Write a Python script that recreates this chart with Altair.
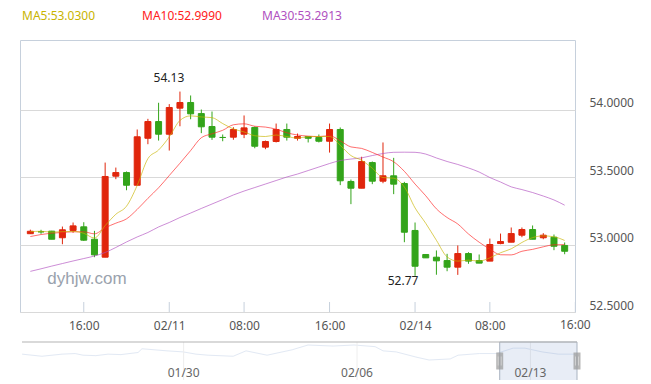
import altair as alt
import pandas as pd

# ---------------- data ----------------
idx = list(range(1, 52))
opens = [53.080, 53.094, 53.099, 53.050, 53.104, 53.131, 53.039, 52.906, 53.506, 53.533,
         53.439, 53.787, 53.911, 53.817, 54.010, 54.052, 53.970, 53.874, 53.793, 53.795,
         53.817, 53.867, 53.721, 53.763, 53.852, 53.787, 53.800, 53.793, 53.765, 53.852,
         53.467, 53.417, 53.607, 53.469, 53.509, 53.452, 53.104, 52.926, 52.906, 52.881,
         52.832, 52.933, 52.881, 52.877, 53.007, 53.017, 53.069, 53.111, 53.050, 53.054,
         52.993]
highs = [53.110, 53.109, 53.101, 53.133, 53.163, 53.165, 53.101, 53.607, 53.570, 53.541,
         53.852, 53.931, 54.050, 54.040, 54.133, 54.104, 54.000, 53.985, 53.815, 53.869,
         53.956, 53.874, 53.770, 53.896, 53.896, 53.822, 53.800, 53.815, 53.896, 53.867,
         53.481, 53.650, 53.615, 53.756, 53.642, 53.464, 53.163, 52.926, 52.956, 52.931,
         52.993, 52.943, 52.926, 53.044, 53.081, 53.126, 53.126, 53.141, 53.084, 53.074,
         53.015]
lows = [53.078, 53.079, 53.039, 53.002, 53.087, 53.027, 52.906, 52.906, 53.484, 53.402,
        53.439, 53.743, 53.770, 53.696, 53.876, 53.928, 53.825, 53.775, 53.765, 53.776,
        53.788, 53.713, 53.706, 53.756, 53.770, 53.770, 53.756, 53.756, 53.681, 53.440,
        53.299, 53.417, 53.447, 53.454, 53.373, 53.017, 52.768, 52.901, 52.776, 52.802,
        52.775, 52.857, 52.862, 52.877, 53.002, 53.017, 53.054, 53.039, 53.039, 52.958,
        52.928]
closes = [53.098, 53.094, 53.039, 53.109, 53.138, 53.032, 52.923, 53.504, 53.533, 53.439,
          53.798, 53.911, 53.817, 54.015, 54.052, 53.968, 53.872, 53.795, 53.793, 53.852,
          53.864, 53.728, 53.763, 53.852, 53.795, 53.800, 53.787, 53.765, 53.852, 53.472,
          53.417, 53.615, 53.469, 53.509, 53.447, 53.091, 52.839, 52.901, 52.879, 52.832,
          52.933, 52.877, 52.862, 53.000, 53.022, 53.081, 53.111, 53.039, 53.069, 52.987,
          52.950]
ma5 = [53.095, 53.098, 53.092, 53.095, 53.097, 53.083, 53.048, 53.140, 53.224, 53.284,
       53.438, 53.636, 53.700, 53.797, 53.919, 53.953, 53.945, 53.940, 53.896, 53.856,
       53.834, 53.806, 53.800, 53.811, 53.800, 53.788, 53.799, 53.800, 53.800, 53.735,
       53.659, 53.624, 53.565, 53.496, 53.491, 53.426, 53.271, 53.157, 53.031, 52.908,
       52.877, 52.884, 52.877, 52.901, 52.939, 52.968, 53.015, 53.051, 53.064, 53.057,
       53.030]
ma10 = [53.059, 53.074, 53.084, 53.089, 53.094, 53.094, 53.079, 53.124, 53.158, 53.190,
        53.260, 53.342, 53.420, 53.511, 53.602, 53.696, 53.791, 53.820, 53.846, 53.887,
        53.894, 53.876, 53.870, 53.854, 53.828, 53.811, 53.803, 53.800, 53.806, 53.768,
        53.723, 53.712, 53.682, 53.648, 53.613, 53.542, 53.448, 53.361, 53.264, 53.200,
        53.152, 53.078, 53.017, 52.966, 52.924, 52.923, 52.950, 52.964, 52.983, 52.998,
        52.999]
ma30 = [52.801, 52.820, 52.840, 52.859, 52.878, 52.896, 52.915, 52.941, 52.978, 53.019,
        53.056, 53.089, 53.130, 53.163, 53.200, 53.233, 53.267, 53.300, 53.333, 53.367,
        53.396, 53.422, 53.448, 53.474, 53.500, 53.522, 53.548, 53.574, 53.600, 53.622,
        53.633, 53.642, 53.659, 53.674, 53.683, 53.684, 53.683, 53.670, 53.641, 53.615,
        53.593, 53.567, 53.537, 53.496, 53.463, 53.427, 53.407, 53.385, 53.359, 53.330,
        53.2913]

xt_vals = [6, 14, 21, 29, 37, 44, 52]
xt_labels = ["16:00", "02/11", "08:00", "16:00", "02/14", "08:00", "16:00"]
y_ticks = [52.5, 53.0, 53.5, 54.0]

# navigator (overview) series, in days, with a relative level
nav_days = [0.48, 1.28, 2.09, 2.62, 2.94, 3.46, 3.95, 4.47, 5.16, 5.32, 6.33, 6.98, 7.50,
            7.99, 9.00, 9.52, 10.37, 11.38, 12.02, 13.03, 13.88, 14.73, 15.05, 15.58,
            16.42, 16.91, 17.76, 18.08, 18.93, 19.62, 20.30, 20.78, 21.47, 22.12, 22.80]
nav_levels = [0.39, 0.25, 0.39, 0.43, 0.32, 0.29, 0.39, 0.36, 0.50, 0.75, 0.61, 0.54, 0.39,
              0.32, 0.25, 0.61, 0.32, 0.68, 1.00, 0.93, 1.00, 0.89, 0.61, 0.54, 0.18,
              0.00, 0.07, 0.32, 0.43, 0.43, 0.79, 0.79, 0.54, 0.39, 0.39]
nav_label_days = [7, 14, 21]
nav_labels = ["01/30", "02/06", "02/13"]
nav_range = [0.476, 22.88]
nav_sel_start = 19.76

# ---------------- styling ----------------
RED = "#e0260c"
GREEN = "#33a41a"
FRAME = "#c6d0dc"
C5, C10, C30 = "#c8b400", "#ff2020", "#b050c0"
W, H = 555, 272
DOMAIN_END = 51.5

df = pd.DataFrame({"i": idx, "o": opens, "h": highs, "l": lows, "c": closes,
                   "ma5": ma5, "ma10": ma10, "ma30": ma30})
df["dir"] = ["up" if c > o else "down" for o, c in zip(opens, closes)]

in_vals = [v for v in xt_vals if v <= DOMAIN_END]
label_expr = " : ".join(f"datum.value == {v} ? '{t}'" for v, t in zip(xt_vals, xt_labels)) + " : ''"

xs = alt.Scale(domain=[0.5, DOMAIN_END], nice=False, zero=False)
ys = alt.Scale(domain=[52.5, 54.515], nice=False, zero=False)
xaxis = alt.Axis(values=in_vals, labelExpr=label_expr, ticks=False, domain=False, grid=False,
                 labelColor="#555555", labelFontSize=12, labelPadding=8, title=None,
                 labelFlush=False, labelOverlap=False)
yaxis = alt.Axis(values=y_ticks, format=".4f", orient="right", ticks=False, domain=False,
                 grid=True, gridColor="#d9d9d9", labelColor="#555555", labelFontSize=12,
                 labelPadding=14, labelBaseline="bottom", title=None)

X = alt.X("i:Q", scale=xs, axis=xaxis, title=None)
color = alt.Color("dir:N", scale=alt.Scale(domain=["up", "down"], range=[RED, GREEN]), legend=None)
stroke = alt.Stroke("dir:N", scale=alt.Scale(domain=["up", "down"], range=[RED, GREEN]), legend=None)

base = alt.Chart(df)
wicks = base.mark_rule(strokeWidth=1).encode(x=X, y=alt.Y("l:Q", scale=ys, axis=yaxis, title=None),
                                             y2="h:Q", color=color)
bodies = base.mark_bar(size=6, strokeWidth=1).encode(
    x=X, y=alt.Y("o:Q", scale=ys, axis=yaxis, title=None), y2="c:Q", color=color, stroke=stroke)

def ma_line(field, col):
    return base.mark_line(color=col, strokeWidth=1, opacity=0.65, interpolate="monotone").encode(
        x=X, y=alt.Y(f"{field}:Q", scale=ys, axis=yaxis, title=None))

l5, l10, l30 = ma_line("ma5", C5), ma_line("ma10", C10), ma_line("ma30", C30)

hi_i = int(df["h"].idxmax())
lo_i = int(df["l"].idxmin())
hi_df = pd.DataFrame({"i": [idx[hi_i]], "v": [highs[hi_i]], "t": [f"{highs[hi_i]:.2f}"]})
lo_df = pd.DataFrame({"i": [idx[lo_i]], "v": [lows[lo_i]], "t": [f"{lows[lo_i]:.2f}"]})
hi_txt = alt.Chart(hi_df).mark_text(dx=-11, dy=-9.5, baseline="alphabetic", fontSize=12,
                                    color="#222222").encode(
    x=X, y=alt.Y("v:Q", scale=ys, axis=yaxis, title=None), text="t:N")
lo_txt = alt.Chart(lo_df).mark_text(dx=-12, dy=0, baseline="top", fontSize=12,
                                    color="#222222").encode(
    x=X, y=alt.Y("v:Q", scale=ys, axis=yaxis, title=None), text="t:N")

tick_df = pd.DataFrame({"i": xt_vals})
ticks = alt.Chart(tick_df).mark_rule(color=FRAME, strokeWidth=1).encode(
    x=X, y=alt.value(H - 10), y2=alt.value(H))

# tick label past the end of the plotted range (the axis drops it)
out_df = pd.DataFrame({"i": [v for v in xt_vals if v > DOMAIN_END],
                       "t": [t for v, t in zip(xt_vals, xt_labels) if v > DOMAIN_END]})
out_lab = alt.Chart(out_df).mark_text(fontSize=12, color="#555555", baseline="top",
                                      align="center").encode(
    x=X, y=alt.value(H + 8), text="t:N")

one = pd.DataFrame({"a": [0]})
watermark = alt.Chart(one).mark_text(text="dyhjw.com", font="Liberation Sans", fontSize=17,
                                     color="#9aa2ad", align="center", baseline="alphabetic").encode(
    x=alt.value(67), y=alt.value(244))
leg5 = alt.Chart(one).mark_text(text=f"MA5:{ma5[-1]:.4f}", color=C5, fontSize=12, align="left",
                                baseline="middle").encode(x=alt.value(2), y=alt.value(-24))
leg10 = alt.Chart(one).mark_text(text=f"MA10:{ma10[-1]:.4f}", color=C10, fontSize=12, align="left",
                                 baseline="middle").encode(x=alt.value(122), y=alt.value(-24))
leg30 = alt.Chart(one).mark_text(text=f"MA30:{ma30[-1]:.4f}", color=C30, fontSize=12, align="left",
                                 baseline="middle").encode(x=alt.value(242), y=alt.value(-24))

main = alt.layer(wicks, bodies, l30, l10, l5, hi_txt, lo_txt, ticks, out_lab, watermark,
                 leg5, leg10, leg30)

# ---------------- navigator ----------------
nxs = alt.Scale(domain=nav_range, range=[2, W + 2], nice=False, zero=False)
nys = alt.Scale(domain=[0, 1], range=[320, 305], nice=False, zero=False)
nav_df = pd.DataFrame({"d": nav_days, "v": nav_levels})
lab_df = pd.DataFrame({"d": nav_label_days, "t": nav_labels})
frame_df = pd.DataFrame({"d": [nav_range[0]], "e": [nav_range[1]]})
sel_df = pd.DataFrame({"d": [nav_sel_start], "e": [nav_range[1]]})
hdl_df = pd.DataFrame({"d": [nav_sel_start, nav_range[1]]})
NX = alt.X("d:Q", scale=nxs, axis=None, title=None)

nav_line = alt.Chart(nav_df).mark_line(color="#e2e9f4", strokeWidth=1).encode(
    x=NX, y=alt.Y("v:Q", scale=nys, axis=None, title=None))
nav_grid = alt.Chart(lab_df).mark_rule(color="#eeeeee").encode(
    x=NX, y=alt.value(302), y2=alt.value(345))
nav_sel = alt.Chart(sel_df).mark_rect(fill="#6685c2", fillOpacity=0.15, stroke="#a9b3c1",
                                      strokeWidth=1).encode(
    x=NX, x2="e:Q", y=alt.value(302), y2=alt.value(345))
nav_top = alt.Chart(frame_df).mark_rule(color="#b3b3b3").encode(
    x=NX, x2="e:Q", y=alt.value(302))
nav_lab = alt.Chart(lab_df).mark_text(color="#666666", fontSize=12, baseline="middle").encode(
    x=NX, y=alt.value(333), text="t:N")
handles = alt.Chart(hdl_df).mark_tick(thickness=7, size=17, color="#999999").encode(
    x=NX, y=alt.value(321))
hl1 = alt.Chart(hdl_df).mark_tick(thickness=1, size=9, color="#dddddd", xOffset=-1.5).encode(
    x=NX, y=alt.value(321))
hl2 = alt.Chart(hdl_df).mark_tick(thickness=1, size=9, color="#dddddd", xOffset=1.5).encode(
    x=NX, y=alt.value(321))

nav = alt.layer(nav_line, nav_grid, nav_sel, nav_top, nav_lab, handles, hl1, hl2)

chart = alt.layer(main, nav).resolve_scale(
    x="independent", y="independent", color="independent", stroke="independent"
).properties(
    width=W, height=H,
    autosize=alt.AutoSizeParams(type="none"),
    padding={"left": 12, "top": 32, "right": 68, "bottom": 68},
).configure(font="Noto Sans").configure_view(stroke=FRAME, strokeWidth=1)

chart.save("out.html", embed_options={"renderer": "svg", "actions": False})
